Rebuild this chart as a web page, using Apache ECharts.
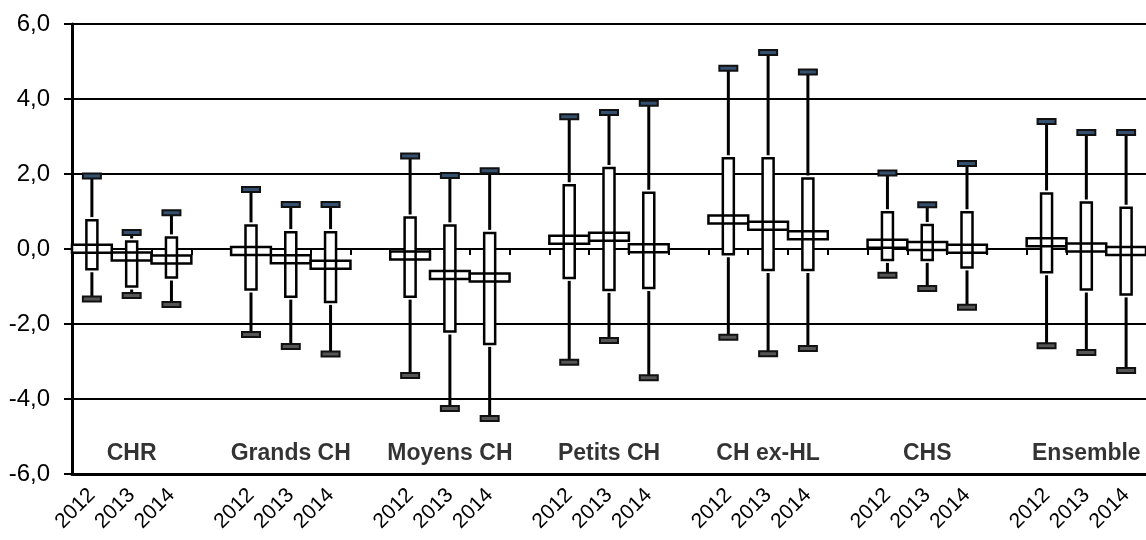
<!DOCTYPE html>
<html>
<head>
<meta charset="utf-8">
<script src="https://cdn.jsdelivr.net/npm/echarts@6/dist/echarts.min.js"></script>
<style>
  html, body { margin: 0; padding: 0; background: #fff; }
  #chart { width: 1146px; height: 540px; }
</style>
</head>
<body>
<div id="chart"></div>
<script>
// groups of hospitals, 3 years each
const groups = ["CHR", "Grands CH", "Moyens CH", "Petits CH", "CH ex-HL", "CHS", "Ensemble"];
const years = ["2012", "2013", "2014"];

// one value per group/year, in the order CHR 2012, 2013, 2014, Grands CH 2012...
const maxVals = [1.95, 0.44, 0.97, 1.59, 1.19, 1.19, 2.48, 1.96, 2.09, 3.53, 3.64, 3.89, 4.82, 5.24, 4.72, 2.03, 1.18, 2.28, 3.40, 3.11, 3.11];
const q3Vals = [0.77, 0.20, 0.31, 0.63, 0.45, 0.45, 0.84, 0.63, 0.43, 1.70, 2.16, 1.50, 2.42, 2.42, 1.88, 0.98, 0.64, 0.98, 1.48, 1.24, 1.10];
const midVals = [0.01, -0.20, -0.28, -0.05, -0.27, -0.42, -0.17, -0.69, -0.76, 0.25, 0.33, 0.02, 0.79, 0.62, 0.37, 0.14, 0.08, 0.01, 0.18, 0.04, -0.05];
const q1Vals = [-0.54, -1.00, -0.76, -1.08, -1.27, -1.41, -1.27, -2.20, -2.53, -0.77, -1.09, -1.04, -0.14, -0.56, -0.56, -0.29, -0.29, -0.49, -0.62, -1.08, -1.21];
const minVals = [-1.33, -1.24, -1.48, -2.28, -2.60, -2.80, -3.37, -4.25, -4.52, -3.02, -2.44, -3.43, -2.35, -2.79, -2.65, -0.70, -1.05, -1.55, -2.58, -2.76, -3.24];

const FONT = "'Liberation Sans', Arial, sans-serif";

// categories: 3 years per group, one empty slot between groups
const categories = [];
groups.forEach((g, gi) => {
  years.forEach(y => categories.push(y));
  if (gi < groups.length - 1) categories.push("");
});

const boxData = [];
groups.forEach((g, gi) => {
  years.forEach((y, yi) => {
    const i = gi * years.length + yi;
    boxData.push([gi * 4 + yi, maxVals[i], q3Vals[i], midVals[i], q1Vals[i], minVals[i]]);
  });
});

const groupLabels = groups.map((g, gi) => ({ name: g, value: [gi * 4 + 1, -5.45] }));

function renderBox(params, api) {
  const x = api.value(0);
  const pMax = api.coord([x, api.value(1)]);
  const pQ3 = api.coord([x, api.value(2)]);
  const pMid = api.coord([x, api.value(3)]);
  const pQ1 = api.coord([x, api.value(4)]);
  const pMin = api.coord([x, api.value(5)]);
  const slot = api.size([1, 0])[0];
  const cx = pMid[0];
  const boxW = 11, capW = 18, capH = 5, wideH = 8, gap = 3;

  const line = (y1, y2) => ({
    type: "line",
    shape: { x1: cx, y1: y1, x2: cx, y2: y2 },
    style: { stroke: "#000", lineWidth: 3 }
  });
  const cap = (y, fill) => ({
    type: "rect",
    shape: { x: cx - capW / 2, y: y - capH / 2, width: capW, height: capH },
    style: { fill: fill, stroke: "#111", lineWidth: 2 }
  });
  const tall = { x: cx - boxW / 2, y: pQ3[1], width: boxW, height: pQ1[1] - pQ3[1] };
  const wide = { x: cx - slot / 2, y: pMid[1] - wideH / 2, width: slot, height: wideH };

  return {
    type: "group",
    children: [
      line(pMax[1], pQ3[1] - gap),
      line(pQ1[1] + gap, pMin[1]),
      cap(pMax[1], "#35506e"),
      cap(pMin[1], "#555"),
      { type: "rect", shape: tall, style: { fill: "#fff" } },
      { type: "rect", shape: wide, style: { fill: "#fff" } },
      { type: "rect", shape: tall, style: { fill: "none", stroke: "#000", lineWidth: 2.5 } },
      { type: "rect", shape: wide, style: { fill: "none", stroke: "#000", lineWidth: 2.5 } }
    ]
  };
}

const chart = echarts.init(document.getElementById("chart"));

chart.setOption({
  animation: false,
  backgroundColor: "#fff",
  grid: { left: 72, right: -6, top: 24, bottom: 66, containLabel: false },
  xAxis: [
    {
      type: "category",
      data: categories,
      position: "bottom",
      boundaryGap: true,
      axisLine: { onZero: false, lineStyle: { color: "#000", width: 3 } },
      axisTick: { show: false },
      axisLabel: {
        interval: 0,
        rotate: 45,
        margin: 18,
        color: "#000",
        fontSize: 21,
        fontFamily: FONT
      },
      splitLine: { show: false }
    },
    {
      // line at 0 with the small ticks between slots
      type: "category",
      data: categories,
      position: "top",
      boundaryGap: true,
      axisLine: { onZero: true, lineStyle: { color: "#000", width: 2 } },
      axisTick: { show: true, inside: true, interval: 0, length: 6, lineStyle: { color: "#000", width: 2 } },
      axisLabel: { show: false },
      splitLine: { show: false }
    }
  ],
  yAxis: {
    type: "value",
    min: -6,
    max: 6,
    interval: 2,
    axisLine: { show: true, lineStyle: { color: "#000", width: 3 } },
    axisTick: { show: true, length: 8, lineStyle: { color: "#000", width: 2 } },
    axisLabel: {
      margin: 22,
      color: "#000",
      fontSize: 24,
      fontFamily: FONT,
      formatter: v => v.toFixed(1).replace(".", ",")
    },
    splitLine: { show: true, lineStyle: { color: "#000", width: 2 } }
  },
  series: [
    {
      type: "custom",
      renderItem: renderBox,
      data: boxData,
      clip: false,
      z: 3
    },
    {
      type: "scatter",
      data: groupLabels,
      symbolSize: 0,
      silent: true,
      label: {
        show: true,
        position: "inside",
        formatter: p => p.name,
        color: "#000",
        fontSize: 23,
        fontWeight: "bold",
        fontFamily: FONT
      },
      z: 4
    }
  ]
});
</script>
</body>
</html>
